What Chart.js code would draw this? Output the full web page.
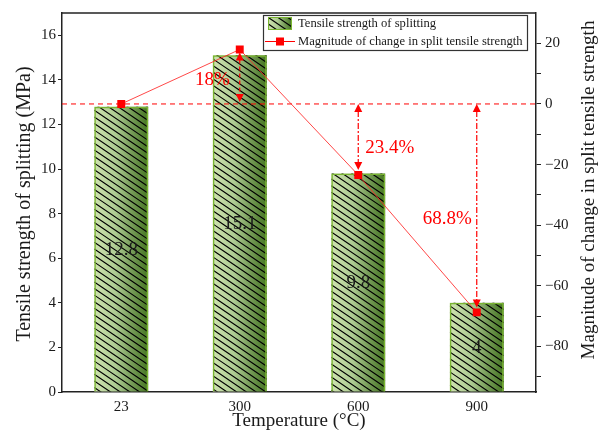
<!DOCTYPE html>
<html><head><meta charset="utf-8">
<script src="https://cdn.jsdelivr.net/npm/chart.js@4.4.0/dist/chart.umd.min.js"></script>
<style>html,body{margin:0;padding:0;background:#fff}canvas{display:block}</style>
</head><body>
<div style="width:606px;height:434px"><canvas id="c" width="606" height="434"></canvas></div>
<script>
// ---- data ----
const categories = ['23', '300', '600', '900'];
const strength = [12.8, 15.1, 9.8, 4];
const changePct = [0, 17.97, -23.44, -68.75];
const barLabels = ['12.8', '15.1', '9.8', '4'];
const pctLabels = ['', '18%', '23.4%', '68.8%'];
const leftTicks = [0, 2, 4, 6, 8, 10, 12, 14, 16];
const rightTicks = [-90, -80, -70, -60, -50, -40, -30, -20, -10, 0, 10, 20];
const seriesNames = ['Tensile strength of splitting', 'Magnitude of change in split tensile strength'];
const axisTitles = { x: 'Temperature (\u00B0C)', y: 'Tensile strength of splitting (MPa)', y1: 'Magnitude of change in split tensile strength' };

// ---- styles ----
const FONT = "'Liberation Serif', 'Times New Roman', serif";
const RED = '#ff0000';
const pctStyle = [null,
  { dx: -10, align: 'right', frac: 0.44, dash: [4, 3] },
  { dx: 7, align: 'left', frac: 0.62, dash: [6, 2, 2, 2] },
  { dx: -5, align: 'right', frac: 0.55, dash: [6, 2, 2, 2] }];

function fillBarLook(ctx, l, t, w, h) {
  const g = ctx.createLinearGradient(l, 0, l + w, 0);
  g.addColorStop(0, '#cfe3af');
  g.addColorStop(0.4, '#adcb92');
  g.addColorStop(0.7, '#759b57');
  g.addColorStop(1, '#457522');
  ctx.save();
  ctx.fillStyle = g;
  ctx.fillRect(l, t, w, h);
  ctx.beginPath();
  ctx.rect(l, t, w, h);
  ctx.clip();
  const s = 0.68, step = 6.6;
  ctx.strokeStyle = '#000';
  ctx.lineWidth = 1.15;
  ctx.beginPath();
  const cMin = t - s * (l + w) - step, cMax = t + h - s * l + step;
  for (let c = Math.floor(cMin / step) * step; c <= cMax; c += step) {
    ctx.moveTo(l, s * l + c);
    ctx.lineTo(l + w, s * (l + w) + c);
  }
  ctx.stroke();
  ctx.restore();
}

function arrowHead(ctx, x, y, dir) {
  ctx.beginPath();
  ctx.moveTo(x, y);
  ctx.lineTo(x - 4, y - dir * 8);
  ctx.lineTo(x + 4, y - dir * 8);
  ctx.closePath();
  ctx.fill();
}

const deco = {
  id: 'deco',
  beforeDatasetDraw(chart, args) {
    if (args.index !== 0) return;
    const ctx = chart.ctx;
    args.meta.data.forEach(el => {
      const p = el.getProps(['x', 'y', 'base', 'width'], true);
      fillBarLook(ctx, p.x - p.width / 2, p.y, p.width, p.base - p.y);
    });
  },
  afterDatasetDraw(chart, args) {
    if (args.index !== 0) return;
    const ctx = chart.ctx, a = chart.chartArea, y1 = chart.scales.y1;
    const y0 = y1.getPixelForValue(0);
    ctx.save();
    ctx.strokeStyle = RED; ctx.lineWidth = 1;
    ctx.setLineDash([5, 4]);
    ctx.beginPath(); ctx.moveTo(a.left, y0); ctx.lineTo(a.right, y0); ctx.stroke();
    ctx.restore();
    // bar value labels
    ctx.save();
    ctx.fillStyle = '#1a1a1a';
    ctx.font = '19px ' + FONT;
    ctx.textAlign = 'center'; ctx.textBaseline = 'middle';
    args.meta.data.forEach((el, i) => {
      const p = el.getProps(['x', 'y', 'base'], true);
      ctx.fillText(barLabels[i], p.x, (p.y + p.base) / 2 + 1);
    });
    ctx.restore();
  },
  afterDatasetsDraw(chart) {
    const ctx = chart.ctx, x = chart.scales.x, y1 = chart.scales.y1;
    const y0 = y1.getPixelForValue(0);
    ctx.save();
    ctx.strokeStyle = RED; ctx.fillStyle = RED; ctx.lineWidth = 1.2;
    for (let i = 1; i < categories.length; i++) {
      const st = pctStyle[i];
      const px = x.getPixelForValue(i);
      const yp = y1.getPixelForValue(changePct[i]);
      let top, bot;
      if (yp < y0) { top = yp + 3; bot = y0 - 2; } else { top = y0; bot = yp - 5; }
      ctx.setLineDash(st.dash);
      ctx.beginPath(); ctx.moveTo(px, top + 7); ctx.lineTo(px, bot - 7); ctx.stroke();
      ctx.setLineDash([]);
      arrowHead(ctx, px, top, -1);
      arrowHead(ctx, px, bot, 1);
      ctx.font = '19px ' + FONT;
      ctx.textAlign = st.align; ctx.textBaseline = 'middle';
      ctx.fillText(pctLabels[i], px + st.dx, y0 + (yp - y0) * st.frac);
    }
    ctx.restore();
  },
  afterDraw(chart) {
    const ctx = chart.ctx, a = chart.chartArea;
    ctx.save();
    // top frame line
    ctx.strokeStyle = '#222'; ctx.lineWidth = 1.5;
    ctx.beginPath(); ctx.moveTo(a.left, a.top); ctx.lineTo(a.right, a.top); ctx.stroke();
    // axis titles
    ctx.fillStyle = '#1a1a1a';
    ctx.textAlign = 'center'; ctx.textBaseline = 'middle';
    ctx.font = '19px ' + FONT;
    ctx.fillText(axisTitles.x, (a.left + a.right) / 2, 421);
    ctx.save(); ctx.font = '20px ' + FONT; ctx.translate(25, 204); ctx.rotate(-Math.PI / 2);
    ctx.fillText(axisTitles.y, 0, 0); ctx.restore();
    ctx.save(); ctx.font = '19px ' + FONT; ctx.translate(589, 190); ctx.rotate(-Math.PI / 2);
    ctx.fillText(axisTitles.y1, 0, 0); ctx.restore();
    // legend
    const L = 263.5, T = 15.5, W = 264, H = 35;
    ctx.fillStyle = '#fff'; ctx.fillRect(L, T, W, H);
    ctx.strokeStyle = '#333'; ctx.lineWidth = 1.2; ctx.strokeRect(L, T, W, H);
    fillBarLook(ctx, 268, 17, 24, 13);
    ctx.strokeStyle = '#79b431'; ctx.lineWidth = 1; ctx.strokeRect(268.5, 17.5, 23, 12);
    ctx.strokeStyle = RED; ctx.lineWidth = 1;
    ctx.beginPath(); ctx.moveTo(265, 41.5); ctx.lineTo(295, 41.5); ctx.stroke();
    ctx.fillStyle = RED; ctx.fillRect(276, 37.5, 8, 8);
    ctx.fillStyle = '#1a1a1a'; ctx.font = '12.6px ' + FONT;
    ctx.textAlign = 'left'; ctx.textBaseline = 'middle';
    ctx.fillText(seriesNames[0], 298, 24);
    ctx.fillText(seriesNames[1], 298, 41.5);
    ctx.restore();
  }
};

new Chart(document.getElementById('c'), {
  data: {
    labels: categories,
    datasets: [
      { type: 'bar', label: seriesNames[0], data: strength, yAxisID: 'y', order: 1,
        backgroundColor: 'rgba(0,0,0,0)', borderColor: '#79b431', borderWidth: 1.5,
        barPercentage: 0.455, categoryPercentage: 1 },
      { type: 'line', label: seriesNames[1], data: changePct, yAxisID: 'y1', order: 0,
        borderColor: 'rgba(255,40,40,0.85)', borderWidth: 1, pointStyle: 'rect',
        pointRadius: 5.6, pointBackgroundColor: RED, pointBorderColor: RED, pointBorderWidth: 0, tension: 0 }
    ]
  },
  options: {
    responsive: false, animation: false, devicePixelRatio: 1,
    layout: { padding: { top: 9, left: 0, right: 0, bottom: 0 } },
    plugins: { legend: { display: false }, tooltip: { enabled: false } },
    scales: {
      x: {
        type: 'category', offset: true,
        grid: { display: true, drawOnChartArea: false, drawTicks: false },
        border: { display: true, color: '#222', width: 1.5 },
        ticks: { color: '#1a1a1a', font: { family: FONT, size: 15 }, padding: 6 },
        afterFit(s) { s.height = 42; }
      },
      y: {
        type: 'linear', position: 'left', min: 0, max: 17,
        afterBuildTicks(s) { s.ticks = leftTicks.map(v => ({ value: v })); },
        grid: { drawOnChartArea: false, tickLength: 4, color: '#222' },
        border: { display: true, color: '#222', width: 1.5 },
        ticks: { color: '#1a1a1a', font: { family: FONT, size: 15 }, padding: 2 },
        afterFit(s) { s.width = 62; }
      },
      y1: {
        type: 'linear', position: 'right', min: -95, max: 30,
        afterBuildTicks(s) { s.ticks = rightTicks.map(v => ({ value: v })); },
        grid: { drawOnChartArea: false, tickLength: 5, color: '#222' },
        border: { display: true, color: '#222', width: 1.5 },
        ticks: { color: '#1a1a1a', font: { family: FONT, size: 15 }, padding: 4,
          callback: v => (v % 20 === 0 ? (v < 0 ? '\u2212' + (-v) : String(v)) : '') },
        afterFit(s) { s.width = 70; }
      }
    }
  },
  plugins: [deco]
});
</script>
</body></html>
